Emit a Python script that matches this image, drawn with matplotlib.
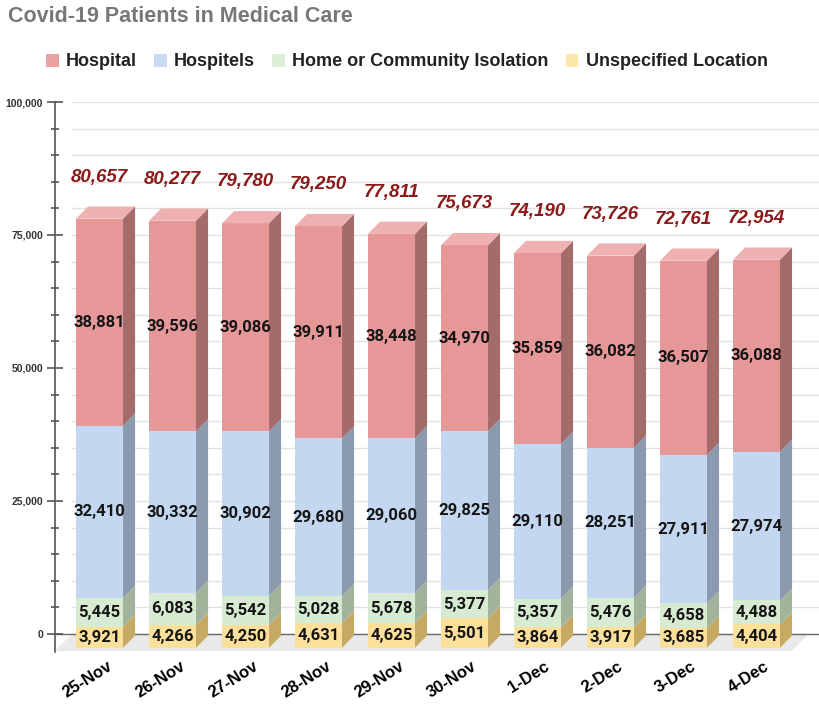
#!/usr/bin/python3
import matplotlib
matplotlib.use('Agg')
import matplotlib.pyplot as plt
from matplotlib.patches import Polygon, Patch
from matplotlib.ticker import FuncFormatter, MultipleLocator
import matplotlib.transforms as mtransforms
import numpy as np

# data
dates = ['25-Nov', '26-Nov', '27-Nov', '28-Nov', '29-Nov',
         '30-Nov', '1-Dec', '2-Dec', '3-Dec', '4-Dec']
unspecified = [3921, 4266, 4250, 4631, 4625, 5501, 3864, 3917, 3685, 4404]
home = [5445, 6083, 5542, 5028, 5678, 5377, 5357, 5476, 4658, 4488]
hospitels = [32410, 30332, 30902, 29680, 29060, 29825, 29110, 28251, 27911, 27974]
hospital = [38881, 39596, 39086, 39911, 38448, 34970, 35859, 36082, 36507, 36088]

series = [
    ('Unspecified Location', unspecified, '#fbe09b', '#c6aa63', '#fce7a6'),
    ('Home or Community Isolation', home, '#d7ebd2', '#a2b39b', '#dcefd7'),
    ('Hospitels', hospitels, '#c3d7f1', '#8b9aaf', '#c9daf2'),
    ('Hospital', hospital, '#e69797', '#a46b6b', '#e8a2a2'),
]
top_color = '#eeb0b0'

# 3d look, in data units
W = 0.644          # front face width
DX = 0.165         # depth to the right
DY = 2300          # depth upwards
FRONT = -2600      # front face baseline
FLOOR_DX, FLOOR_DY = 0.233, -3200
XL, XR = -0.61, 9.87

fig = plt.figure(figsize=(8.2, 7.1), dpi=100)
ax = fig.add_axes([55 / 820, 58 / 710, 765 / 820, 550 / 710])
ax.set_xlim(XL, XR)
ax.set_ylim(-3400, 100000)

# floor and grid
ax.add_patch(Polygon([(XL, FLOOR_DY), (XL + FLOOR_DX, 0), (9.72, 0),
                      (9.72 - FLOOR_DX, FLOOR_DY)],
                     closed=True, fc='#e9e9e9', ec='none', zorder=0))
for v in range(5000, 100001, 5000):
    ax.plot([XL + FLOOR_DX, XR], [v, v], color='#e2e2e2', lw=1, zorder=0.5)
ax.plot([XL, XR], [0, 0], color='#666666', lw=1, zorder=0.6)

x = np.arange(len(dates))
bottom = np.zeros(len(dates)) + FRONT
for name, vals, front, side, _ in series:
    vals = np.array(vals, dtype=float)
    ax.bar(x, vals, W, bottom=bottom, color=front, lw=0, zorder=2)
    for i in range(len(x)):
        r = x[i] + W / 2
        b, t = bottom[i], bottom[i] + vals[i]
        ax.add_patch(Polygon([(r, b), (r, t), (r + DX, t + DY), (r + DX, b + DY)],
                             closed=True, fc=side, ec='none', zorder=2))
        ax.text(x[i], (b + t) / 2, f'{int(vals[i]):,}', ha='center', va='center',
                fontsize=12, fontweight='bold', family='Roboto',
                color='#151515', zorder=5)
    bottom = bottom + vals

# top faces + totals
totals = np.array(unspecified) + np.array(home) + np.array(hospitels) + np.array(hospital)
for i in range(len(x)):
    l, r = x[i] - W / 2, x[i] + W / 2
    t = bottom[i]
    ax.add_patch(Polygon([(l, t), (r, t), (r + DX, t + DY), (l + DX, t + DY)],
                         closed=True, fc=top_color, ec='none', zorder=2))
    ax.text(x[i], totals[i] + 5200, f'{totals[i]:,}', ha='center', va='center',
            fontsize=13.5, fontweight='bold', style='italic',
            family='Liberation Sans', color='#8b1a1a', zorder=5)

# axes styling
for s in ['top', 'right', 'bottom']:
    ax.spines[s].set_visible(False)
ax.spines['left'].set_color('#555555')
ax.spines['left'].set_linewidth(1.2)
ax.yaxis.set_major_locator(MultipleLocator(25000))
ax.yaxis.set_minor_locator(MultipleLocator(5000))
ax.yaxis.set_major_formatter(FuncFormatter(lambda v, p: f'{int(v):,}'))
ax.tick_params(axis='y', which='major', direction='inout', length=11,
               width=1.2, color='#555555', pad=3, labelsize=7.5, labelcolor='#333333')
ax.tick_params(axis='y', which='minor', direction='inout', length=6,
               width=1.2, color='#555555')
for lab in ax.get_yticklabels():
    lab.set_fontweight('bold')
    lab.set_family('Liberation Sans')

ax.set_xticks(x)
ax.set_xticklabels(dates, rotation=32, ha='right', rotation_mode='anchor',
                   fontsize=12, fontweight='bold', family='Liberation Sans')
ax.tick_params(axis='x', length=0, pad=5)
off = mtransforms.ScaledTranslation(7 / 100, 0, fig.dpi_scale_trans)
for lab in ax.get_xticklabels():
    lab.set_transform(lab.get_transform() + off)

fig.text(8 / 820, 1 - 16 / 710, 'Covid-19 Patients in Medical Care', ha='left',
         va='center', fontsize=15.5, fontweight='bold', family='Liberation Sans',
         color='#777777')

handles = [Patch(fc=s[4], ec='none', label=s[0]) for s in reversed(series)]
fig.legend(handles=handles, loc='center', bbox_to_anchor=(407 / 820, 1 - 62 / 710),
           ncol=4, frameon=False, handlelength=0.7, handleheight=0.7,
           handletextpad=0.4, columnspacing=0.95,
           prop={'family': 'Liberation Sans', 'weight': 'bold', 'size': 13})
for t in fig.legends[0].get_texts():
    t.set_color('#222222')

fig.savefig('out.png', dpi=100)
